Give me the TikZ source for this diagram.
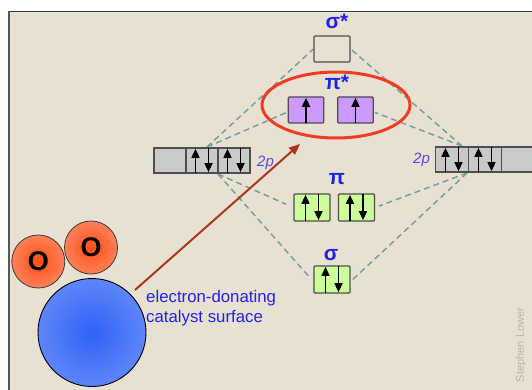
\documentclass[tikz,border=0pt]{standalone}
\usepackage{fontspec}
\setmainfont{Liberation Sans}
\usetikzlibrary{arrows.meta}

\definecolor{paper}{HTML}{E8E0D1}
\definecolor{frameline}{HTML}{3A3A3A}
\definecolor{lvlblue}{HTML}{2222F0}
\definecolor{pblue}{HTML}{5A46F2}
\definecolor{dashteal}{HTML}{6F9E9B}
\definecolor{boxedge}{HTML}{4E4E4E}
\definecolor{atomgray}{HTML}{C9C9C9}
\definecolor{antipurple}{HTML}{CC99FF}
\definecolor{bondgreen}{HTML}{CCFF99}
\definecolor{ringred}{HTML}{F03C22}
\definecolor{arrowbrown}{HTML}{A63A1C}
\definecolor{credit}{HTML}{BDB4A6}
\definecolor{oxin}{HTML}{FF4E14}
\definecolor{oxout}{HTML}{FFB39E}
\definecolor{surfin}{HTML}{2F62F4}
\definecolor{surfout}{HTML}{8EA8FF}

% radial fills reaching the outer colour at the rim of the disk
\pgfdeclareradialshading{oxygenball}{\pgfpointorigin}{color(0bp)=(oxin); color(50bp)=(oxout)}
\pgfdeclareradialshading{surfaceball}{\pgfpointorigin}{color(0bp)=(surfin); color(50bp)=(surfout)}

\pgfdeclarelayer{behind}
\pgfsetlayers{behind,main}

\tikzset{
  orb/.style={draw=boxedge, line width=1.3pt, rounded corners=1pt,
    minimum width=36pt, minimum height=26pt, inner sep=0pt},
  cell/.style={orb, fill=atomgray, minimum width=32pt, minimum height=25pt, rounded corners=0pt},
  spin/.style={line width=1.6pt, -{Triangle[length=9pt,width=8pt]}},
  corr/.style={dashteal, line width=1.4pt, dash pattern=on 6pt off 4pt},
  lvllabel/.style={lvlblue, font=\fontsize{21}{24}\selectfont\bfseries, inner sep=0pt, anchor=base},
  plabel/.style={pblue, font=\fontsize{15}{18}\selectfont\itshape, inner sep=0pt, anchor=base west},
  atom/.style={circle, draw=frameline, line width=0.8pt, shading=oxygenball,
    minimum size=53pt, inner sep=0pt, font=\fontsize{27}{27}\selectfont\bfseries},
}

\newcommand{\pairspin}[1]{%
  \draw[spin] ([xshift=-6.5pt,yshift=1pt]#1.south) -- ([xshift=-6.5pt,yshift=-1.5pt]#1.north);
  \draw[spin] ([xshift=6.5pt,yshift=-1pt]#1.north) -- ([xshift=6.5pt,yshift=1.5pt]#1.south);}
\newcommand{\upspin}[1]{%
  \draw[spin] ([yshift=1pt]#1.south) -- ([yshift=-1.5pt]#1.north);}

\begin{document}
\begin{tikzpicture}[x=1pt,y=-1pt]
  \useasboundingbox (0,0) rectangle (532,390);
  \begin{pgfonlayer}{behind}
    \fill[white] (0,0) rectangle (532,390);
    \fill[paper] (9,12) rectangle (532,390);
    \draw[frameline, line width=1.6pt] (8,11.5) -- (532,11.5);
    \draw[frameline!85, line width=2pt] (8.5,11) -- (8.5,390);
  \end{pgfonlayer}

  % molecular orbital levels
  \node[orb, fill=paper] (ss) at (332,49) {};
  \node[orb, fill=antipurple, minimum width=35.5pt] (ps1) at (306,110) {};
  \node[orb, fill=antipurple, minimum width=35.5pt] (ps2) at (355.5,110) {};
  \node[orb, fill=bondgreen, minimum height=27pt] (pb1) at (312,207.5) {};
  \node[orb, fill=bondgreen, minimum height=27pt] (pb2) at (356.5,207.5) {};
  \node[orb, fill=bondgreen, minimum height=27pt] (sb) at (332,279.5) {};

  % atomic 2p sets
  \node[cell] (la) at (170,160.5) {};
  \node[cell] (lb) at (202,160.5) {};
  \node[cell] (lc) at (234,160.5) {};
  \node[cell, minimum width=33pt] (ra) at (452,159.5) {};
  \node[cell, minimum width=33pt] (rb) at (485,159.5) {};
  \node[cell, minimum width=33pt] (rc) at (518,159.5) {};

  % correlation lines, kept under the boxes
  \coordinate (lt) at (207,147);
  \coordinate (lbt) at (218,174);
  \coordinate (rt) at (462,146);
  \coordinate (rbt) at (467,173);
  \begin{pgfonlayer}{behind}
    \draw[corr] (lt) -- (ss.west);
    \draw[corr, shorten >=1pt] (lt) -- ([yshift=-2pt]ps1.west);
    \draw[corr] (rt) -- (ss.east);
    \draw[corr, shorten >=1pt] (rt) -- ([yshift=-2pt]ps2.east);
    \draw[corr, shorten >=8pt] (lbt) -- (pb1.west);
    \draw[corr, shorten >=4pt] (lbt) -- ([yshift=-2pt]sb.west);
    \draw[corr, shorten >=4pt] (rbt) -- (pb2.east);
    \draw[corr, shorten >=3pt] (rbt) -- ([yshift=-2pt]sb.east);
  \end{pgfonlayer}

  % electron spins
  \upspin{ps1} \upspin{ps2}
  \pairspin{pb1} \pairspin{pb2} \pairspin{sb}
  \pairspin{lb} \pairspin{lc} \pairspin{ra} \pairspin{rb}

  % level labels
  \node[lvllabel] (lss) at (337,29) {σ*};
  \node[lvllabel] (lps) at (337,90) {π*};
  \node[lvllabel] (lpb) at (337,184) {π};
  \node[lvllabel] (lsb) at (331,260) {σ};
  \node[plabel] (l2p) at (257,167) {2p};
  \node[plabel] (r2p) at (413,164) {2p};

  % highlighted antibonding pair
  \draw[ringred, line width=3pt] (336,105) ellipse [x radius=74, y radius=33];

  % catalyst and adsorbed oxygen
  \node[circle, draw=black, line width=0.9pt, shading=surfaceball,
        minimum size=108pt, inner sep=0pt] (surf) at (92,332.5) {};
  \node[atom] (o1) at (38.3,261.5) {O};
  \node[atom] (o2) at (91,247.5) {O};

  \coordinate (push) at (135,290);
  \coordinate (tip) at (300,144);
  \draw[arrowbrown, line width=2pt, -{Triangle[length=11pt,width=9pt]}] (push) -- (tip);

  \node[lvlblue, font=\fontsize{16.8}{20}\selectfont, align=left, anchor=north west,
        inner sep=0pt] (cat) at (146,290) {electron-donating\\catalyst surface};

  \node[credit, font=\fontsize{11}{12}\selectfont, rotate=90, inner sep=0pt] (sig) at (521,345) {Stephen Lower};
\end{tikzpicture}
\end{document}
